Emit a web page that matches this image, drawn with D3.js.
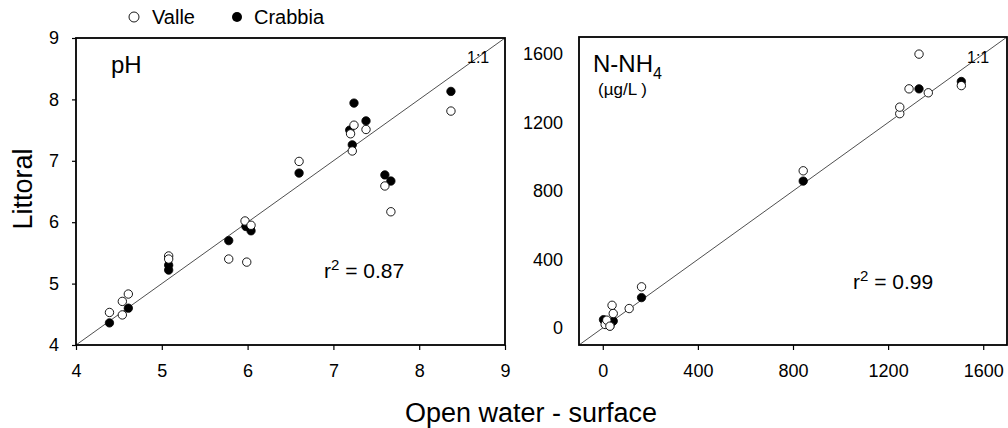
<!DOCTYPE html>
<html>
<head>
<meta charset="utf-8">
<script src="https://cdn.jsdelivr.net/npm/d3@7"></script>
<style>
  body { margin: 0; background: #fff; }
  svg { display: block; font-family: "Liberation Sans", Arial, sans-serif; }
  .tick text { font-size: 18px; fill: #000; }
  .tick line { stroke: #000; stroke-width: 1.2; }
</style>
</head>
<body>
<div id="wrapper"></div>
<script>
// data: [open water surface, littoral]
const phValle = [
  [4.39, 4.53], [4.54, 4.71], [4.54, 4.49], [4.61, 4.83],
  [5.08, 5.45], [5.08, 5.40], [5.78, 5.40], [5.99, 5.35],
  [5.97, 6.02], [6.04, 5.95], [6.60, 6.99], [7.20, 7.44],
  [7.24, 7.58], [7.38, 7.51], [7.22, 7.16], [7.60, 6.59],
  [7.67, 6.17], [8.37, 7.81]
];
const phCrabbia = [
  [4.39, 4.36], [4.61, 4.60], [5.08, 5.30], [5.08, 5.22],
  [5.78, 5.70], [5.98, 5.93], [6.04, 5.86], [6.60, 6.80],
  [7.19, 7.50], [7.22, 7.26], [7.24, 7.94], [7.38, 7.65],
  [7.60, 6.77], [7.67, 6.67], [8.37, 8.13]
];
const nhValle = [
  [10, 20], [17, 45], [44, 84], [39, 132], [30, 10],
  [111, 113], [163, 240], [843, 918], [1249, 1252], [1249, 1290],
  [1288, 1397], [1330, 1600], [1369, 1374], [1508, 1416]
];
const nhCrabbia = [
  [3, 48], [30, 12], [44, 40], [20, 28], [163, 177],
  [843, 858], [1330, 1397], [1508, 1440]
];
const phTicks = [4, 5, 6, 7, 8, 9];
const nhTicks = [0, 400, 800, 1200, 1600];

const width = 1008;
const height = 428;

const svg = d3.select('#wrapper')
  .append('svg')
  .attr('width', width)
  .attr('height', height);

function drawPanel(opts) {
  const xScale = d3.scaleLinear().domain(opts.domain).range(opts.xRange);
  const yScale = d3.scaleLinear().domain(opts.domain).range(opts.yRange);

  const g = svg.append('g');

  // axes
  g.append('g')
    .attr('transform', `translate(0, ${opts.yRange[0]})`)
    .call(d3.axisBottom(xScale).tickValues(opts.ticks).tickFormat(d3.format('d'))
      .tickSize(5).tickPadding(14).tickSizeOuter(0))
    .call(a => a.select('.domain').remove());

  g.append('g')
    .attr('transform', `translate(${opts.xRange[0]}, 0)`)
    .call(d3.axisLeft(yScale).tickValues(opts.ticks).tickFormat(d3.format('d'))
      .tickSize(opts.yTick).tickPadding(opts.yPad).tickSizeOuter(0))
    .call(a => a.select('.domain').remove());

  // 1:1 line
  g.append('line')
    .attr('x1', xScale(opts.domain[0]))
    .attr('y1', yScale(opts.domain[0]))
    .attr('x2', xScale(opts.domain[1]))
    .attr('y2', yScale(opts.domain[1]))
    .attr('stroke', '#222')
    .attr('stroke-width', 0.8);

  // dots: Crabbia below, Valle on top
  g.selectAll('circle.crabbia')
    .data(opts.crabbia)
    .join('circle')
    .attr('class', 'crabbia')
    .attr('cx', d => xScale(d[0]))
    .attr('cy', d => yScale(d[1]))
    .attr('r', 4.2)
    .attr('fill', '#000')
    .attr('stroke', '#000')
    .attr('stroke-width', 0.8);

  g.selectAll('circle.valle')
    .data(opts.valle)
    .join('circle')
    .attr('class', 'valle')
    .attr('cx', d => xScale(d[0]))
    .attr('cy', d => yScale(d[1]))
    .attr('r', 4.2)
    .attr('fill', '#fff')
    .attr('stroke', '#000')
    .attr('stroke-width', 0.9);

  // frame
  g.append('rect')
    .attr('x', opts.xRange[0])
    .attr('y', opts.yRange[1])
    .attr('width', opts.xRange[1] - opts.xRange[0])
    .attr('height', opts.yRange[0] - opts.yRange[1])
    .attr('fill', 'none')
    .attr('stroke', '#000')
    .attr('stroke-width', 1.8);

  // 1:1 label
  g.append('text')
    .attr('x', opts.oneX)
    .attr('y', 63)
    .style('font-size', '16px')
    .text('1:1');

  // r squared
  const r2 = g.append('text')
    .attr('x', opts.r2X)
    .attr('y', opts.r2Y)
    .style('font-size', '21px');
  r2.append('tspan').text('r');
  r2.append('tspan').attr('dy', -8).style('font-size', '15px').text('2');
  r2.append('tspan').attr('dy', 8).text(' = ' + opts.r2);

  return g;
}

const left = drawPanel({
  domain: [4, 9], xRange: [76, 505], yRange: [345, 38], ticks: phTicks,
  yTick: 4, yPad: 13,
  valle: phValle, crabbia: phCrabbia,
  oneX: 467, r2X: 324, r2Y: 278, r2: '0.87'
});
left.append('text')
  .attr('x', 111)
  .attr('y', 73)
  .style('font-size', '24px')
  .text('pH');

const right = drawPanel({
  domain: [-100, 1700], xRange: [579, 1007], yRange: [345, 37], ticks: nhTicks,
  yTick: 0, yPad: 16,
  valle: nhValle, crabbia: nhCrabbia,
  oneX: 967, r2X: 853, r2Y: 289, r2: '0.99'
});
const nh = right.append('text')
  .attr('x', 593)
  .attr('y', 72)
  .style('font-size', '24px');
nh.append('tspan').text('N-NH');
nh.append('tspan').attr('dy', 7).style('font-size', '16px').text('4');
right.append('text')
  .attr('x', 598)
  .attr('y', 95)
  .style('font-size', '17px')
  .text('(µg/L )');

// legend
const legend = svg.append('g');
legend.append('circle').attr('cx', 134).attr('cy', 17).attr('r', 5)
  .attr('fill', '#fff').attr('stroke', '#000').attr('stroke-width', 0.9);
legend.append('text').attr('x', 152).attr('y', 24).style('font-size', '20px').text('Valle');
legend.append('circle').attr('cx', 237).attr('cy', 17).attr('r', 5)
  .attr('fill', '#000');
legend.append('text').attr('x', 254).attr('y', 24).style('font-size', '20px').text('Crabbia');

// axis titles
svg.append('text')
  .attr('x', 531)
  .attr('y', 422)
  .attr('text-anchor', 'middle')
  .style('font-size', '27px')
  .text('Open water - surface');

svg.append('text')
  .attr('transform', 'translate(32, 189) rotate(-90)')
  .attr('text-anchor', 'middle')
  .style('font-size', '27px')
  .text('Littoral');
</script>
</body>
</html>
